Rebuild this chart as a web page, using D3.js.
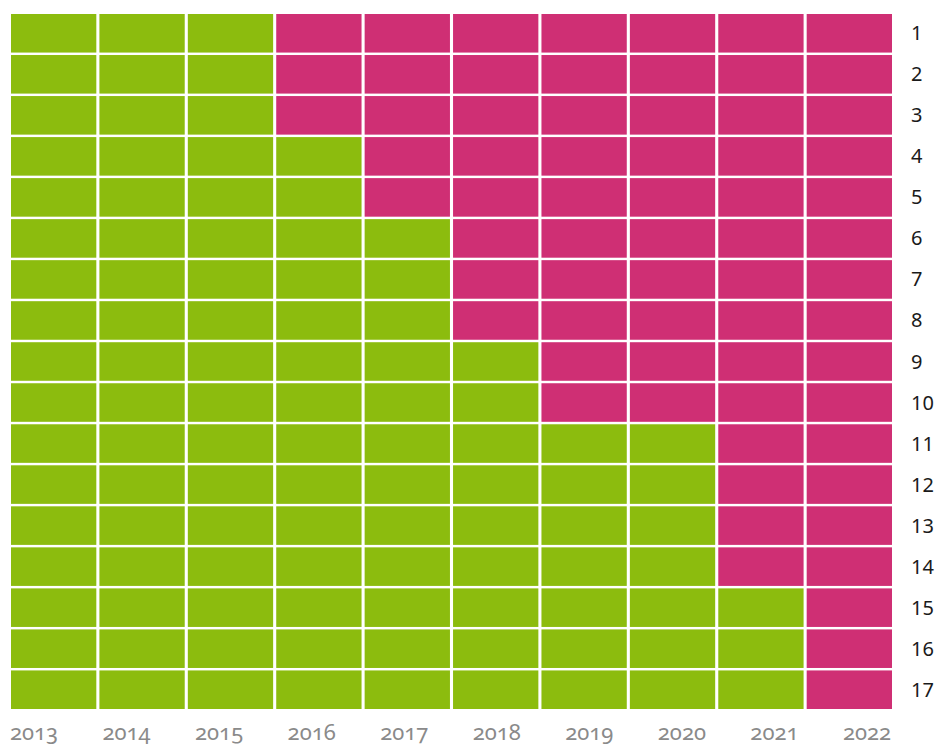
<!DOCTYPE html>
<html>
<head>
<meta charset="utf-8">
<script src="https://cdn.jsdelivr.net/npm/d3@7"></script>
<style>
  body { margin: 0; background: #fff; }
  .year { font-family: "Noto Sans", sans-serif; font-size: 22px; fill: #8a8a8a; font-variant-numeric: oldstyle-nums; }
  .rowlab { font-family: "Noto Sans", sans-serif; font-size: 20px; fill: #1a1a1a; }
</style>
</head>
<body>
<div id="chart"></div>
<script>
// columns (years) and rows
let years = [2013, 2014, 2015, 2016, 2017, 2018, 2019, 2020, 2021, 2022];
let rows = [1, 2, 3, 4, 5, 6, 7, 8, 9, 10, 11, 12, 13, 14, 15, 16, 17];
// number of green cells (from the left) in each row
let greenCount = [3, 3, 3, 4, 4, 5, 5, 5, 6, 6, 8, 8, 8, 8, 9, 9, 9];

let green = "#8cbc0e",
  magenta = "#cf2f74";

let draw = () => {
  var width = 940,
    height = 747;

  var svg = d3
    .select("#chart")
    .append("svg")
    .attr("width", width)
    .attr("height", height);

  var Xaxis = d3.scaleBand().range([11, 892]).domain(years).paddingInner(0.035),
    Yaxis = d3.scaleBand().range([14, 709]).domain(rows).paddingInner(0.06),
    Labels = d3.scalePoint().range([34, 867]).domain(years);

  var cells = [];
  rows.forEach((r, i) => {
    years.forEach((y, j) => {
      cells.push({ row: r, year: y, green: j < greenCount[i] });
    });
  });

  // draw cells
  svg
    .selectAll()
    .data(cells)
    .enter()
    .append("rect")
    .attr("x", (d) => Xaxis(d.year))
    .attr("y", (d) => Yaxis(d.row))
    .attr("width", Xaxis.bandwidth())
    .attr("height", Yaxis.bandwidth())
    .style("fill", (d) => (d.green ? green : magenta));

  // year labels
  svg
    .selectAll()
    .data(years)
    .enter()
    .append("text")
    .attr("class", "year")
    .attr("x", (d) => Labels(d))
    .attr("y", 740)
    .attr("text-anchor", "middle")
    .text((d) => d);

  // row labels
  svg
    .selectAll()
    .data(rows)
    .enter()
    .append("text")
    .attr("class", "rowlab")
    .attr("x", 911)
    .attr("y", (d) => Yaxis(d) + Yaxis.bandwidth() / 2 + 7)
    .text((d) => d);
};

draw();
</script>
</body>
</html>
